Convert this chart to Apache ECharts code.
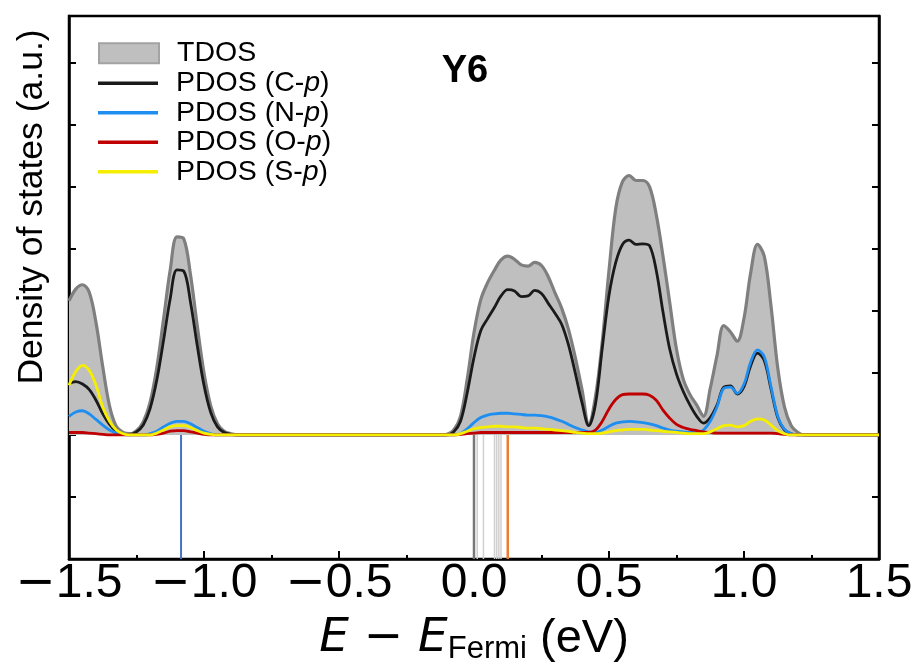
<!DOCTYPE html>
<html><head><meta charset="utf-8">
<script src="https://cdn.jsdelivr.net/npm/echarts@6/dist/echarts.min.js"></script>
<style>html,body{margin:0;padding:0;background:#fff}#c{width:920px;height:670px}</style>
</head><body><div id="c"></div>
<script>
// Energy grid (eV, relative to Fermi level)
const energy = [
 -1.5,-1.475,-1.45,-1.425,-1.4,-1.375,-1.35,-1.325,-1.3,-1.275,
 -1.25,-1.225,-1.2,-1.175,-1.15,-1.125,-1.1,-1.075,-1.05,-1.025,
 -1.0,-0.975,-0.95,-0.925,-0.9,-0.875,-0.85,-0.825,-0.8,-0.775,
 -0.75,-0.725,-0.7,-0.675,-0.65,-0.625,-0.6,-0.575,-0.55,-0.525,
 -0.5,-0.475,-0.45,-0.425,-0.4,-0.375,-0.35,-0.325,-0.3,-0.275,
 -0.25,-0.225,-0.2,-0.175,-0.15,-0.125,-0.1,-0.075,-0.05,-0.025,
 0.0,0.025,0.05,0.075,0.1,0.125,0.15,0.175,0.2,0.225,
 0.25,0.275,0.3,0.325,0.35,0.375,0.4,0.425,0.45,0.475,
 0.5,0.525,0.55,0.575,0.6,0.625,0.65,0.675,0.7,0.725,
 0.75,0.775,0.8,0.825,0.85,0.875,0.9,0.925,0.95,0.975,
 1.0,1.025,1.05,1.075,1.1,1.125,1.15,1.175,1.2,1.225,
 1.25,1.275,1.3,1.325,1.35,1.375,1.4,1.425,1.45,1.475,1.5
];
const tdos = [
 2.16,2.35,2.42,2.30,1.81,1.10,0.47,0.14,0.04,0.02,
 0.07,0.21,0.52,1.08,1.86,2.66,3.19,3.16,2.58,1.76,
 1.00,0.47,0.18,0.06,0.02,0,0,0,0,0,
 0,0,0,0,0,0,0,0,0,0,
 0,0,0,0,0,0,0,0,0,0,
 0,0,0,0,0,0,0.01,0.08,0.30,0.90,
 1.65,2.18,2.45,2.65,2.82,2.88,2.83,2.74,2.72,2.78,
 2.73,2.55,2.29,2.04,1.70,1.25,0.73,0.18,0.62,1.50,
 2.65,3.65,4.08,4.18,4.10,4.10,4.00,3.55,2.88,2.13,
 1.38,0.90,0.65,0.48,0.30,0.75,1.28,1.76,1.66,1.51,
 1.88,2.62,3.07,2.88,2.08,1.08,0.45,0.15,0.04,0,
 0,0,0,0,0,0,0,0,0,0,0
];
const pdosC = [
 0.83,0.86,0.82,0.73,0.56,0.34,0.17,0.06,0.01,0.01,
 0.05,0.16,0.42,0.88,1.52,2.20,2.66,2.64,2.14,1.44,
 0.80,0.36,0.13,0.04,0.01,0,0,0,0,0,
 0,0,0,0,0,0,0,0,0,0,
 0,0,0,0,0,0,0,0,0,0,
 0,0,0,0,0,0,0,0.05,0.22,0.68,
 1.25,1.68,1.87,2.05,2.24,2.34,2.32,2.23,2.24,2.33,
 2.28,2.12,1.96,1.78,1.45,1.00,0.52,0.15,0.50,1.40,
 2.25,2.78,3.07,3.14,3.07,3.08,3.05,2.65,1.98,1.38,
 0.98,0.70,0.48,0.30,0.19,0.28,0.48,0.77,0.79,0.66,
 0.78,1.12,1.32,1.20,0.74,0.28,0.08,0.02,0,0,
 0,0,0,0,0,0,0,0,0,0,0
];
const pdosN = [
 0.30,0.37,0.39,0.34,0.25,0.16,0.08,0.03,0.01,0,
 0,0,0.02,0.06,0.13,0.19,0.22,0.22,0.18,0.12,
 0.06,0.02,0,0,0,0,0,0,0,0,
 0,0,0,0,0,0,0,0,0,0,
 0,0,0,0,0,0,0,0,0,0,
 0,0,0,0,0,0,0,0,0.02,0.10,
 0.20,0.28,0.32,0.34,0.35,0.35,0.34,0.33,0.32,0.32,
 0.31,0.29,0.26,0.22,0.17,0.12,0.08,0.05,0.04,0.08,
 0.14,0.19,0.21,0.22,0.21,0.20,0.18,0.15,0.11,0.08,
 0.06,0.05,0.04,0.04,0.08,0.22,0.45,0.75,0.77,0.67,
 0.82,1.18,1.37,1.26,0.78,0.30,0.09,0.02,0,0,
 0,0,0,0,0,0,0,0,0,0,0
];
const pdosO = [
 0.04,0.04,0.04,0.03,0.02,0.01,0,0,0,0,
 0,0,0,0.01,0.03,0.06,0.07,0.07,0.05,0.03,
 0.01,0,0,0,0,0,0,0,0,0,
 0,0,0,0,0,0,0,0,0,0,
 0,0,0,0,0,0,0,0,0,0,
 0,0,0,0,0,0,0,0,0.01,0.02,
 0.03,0.04,0.04,0.04,0.04,0.04,0.04,0.04,0.04,0.04,
 0.04,0.04,0.04,0.04,0.04,0.04,0.04,0.04,0.08,0.22,
 0.42,0.57,0.65,0.66,0.66,0.66,0.64,0.56,0.40,0.27,
 0.17,0.12,0.09,0.07,0.05,0.04,0.03,0.03,0.03,0.03,
 0.03,0.03,0.03,0.03,0.03,0.02,0.01,0,0,0,
 0,0,0,0,0,0,0,0,0,0,0
];
const pdosS = [
 0.80,1.02,1.12,1.04,0.80,0.45,0.22,0.08,0.02,0,
 0,0,0,0.03,0.08,0.13,0.15,0.15,0.12,0.07,
 0.03,0.01,0,0,0,0,0,0,0,0,
 0,0,0,0,0,0,0,0,0,0,
 0,0,0,0,0,0,0,0,0,0,
 0,0,0,0,0,0,0,0,0.02,0.06,
 0.10,0.12,0.13,0.14,0.14,0.13,0.13,0.12,0.11,0.11,
 0.10,0.09,0.08,0.07,0.06,0.04,0.03,0.02,0.02,0.03,
 0.05,0.07,0.08,0.09,0.09,0.09,0.08,0.07,0.06,0.05,
 0.04,0.03,0.02,0.02,0.02,0.05,0.10,0.15,0.16,0.13,
 0.15,0.22,0.26,0.24,0.16,0.07,0.02,0,0,0,
 0,0,0,0,0,0,0,0,0,0,0
];
// Orbital energy levels drawn below the baseline
const levelsBlue = [-1.085];
const levelsDark = [0.0];
const levelsLight = [0.012, 0.035, 0.076, 0.084, 0.092, 0.100];
const levelsOrange = [0.125];
// Axis ticks
const xTicks = [-1.5, -1.0, -0.5, 0.0, 0.5, 1.0, 1.5];
const yTicks = [-2, -1, 0, 1, 2, 3, 4, 5, 6];
const seriesNames = ['TDOS', 'PDOS (C-p)', 'PDOS (N-p)', 'PDOS (O-p)', 'PDOS (S-p)'];
const panelLabel = 'Y6';

const FONT = '"Liberation Sans", Arial, sans-serif';
const MATH = '"DejaVu Sans", sans-serif';
const pairs = vals => energy.map((e, i) => [e, vals[i]]);
const yMin = yTicks[0], yMax = 6.75;

const levelSeries = [];
function addLevels(arr, color, width) {
  arr.forEach(e => levelSeries.push({
    type: 'line', data: [[e, 0], [e, yMin]], symbol: 'none', silent: true,
    lineStyle: { color: color, width: width }, z: 1, animation: false
  }));
}
addLevels(levelsLight, '#cfcfcf', 1.5);
addLevels(levelsBlue, '#4472c4', 2);
addLevels(levelsDark, '#777777', 2.5);
addLevels(levelsOrange, '#ed7d31', 2.5);

const curveColors = ['#7f7f7f', '#1a1a1a', '#1e8ef0', '#c00000', '#f5ee00'];
const curveData = [tdos, pdosC, pdosN, pdosO, pdosS];
const curveSeries = curveData.map((vals, k) => {
  const s = {
    name: seriesNames[k], type: 'line', data: pairs(vals), symbol: 'none',
    smooth: 0.35, color: curveColors[k], animation: false, silent: true,
    lineStyle: { color: curveColors[k], width: k === 0 ? 3.2 : 2.8 }, z: 2 + k
  };
  if (k === 0) s.areaStyle = { color: '#bfbfbf', opacity: 1 };
  return s;
});

const legendFmt = name => name.replace('-p)', '-{i|p})');
const legendText = {
  fontFamily: FONT, fontSize: 28.5, color: '#000', lineHeight: 29.5,
  padding: [0, 0, 0, 13],
  rich: { i: { fontFamily: FONT, fontSize: 28.5, fontStyle: 'italic', color: '#000', lineHeight: 29.5 } }
};

const chart = echarts.init(document.getElementById('c'), null, { renderer: 'canvas' });
chart.setOption({
  backgroundColor: '#fff',
  animation: false,
  grid: { left: 69, right: 41, top: 16, bottom: 110, show: true, borderColor: '#000', borderWidth: 2.5 },
  legend: [
    { data: [seriesNames[0]], orient: 'vertical', left: 93, top: 33.5, itemWidth: 60, itemHeight: 20,
      itemGap: 0, icon: 'rect', selectedMode: false,
      itemStyle: { color: '#bfbfbf', borderColor: '#a3a3a3', borderWidth: 2 },
      textStyle: legendText, formatter: legendFmt },
    { data: seriesNames.slice(1), orient: 'vertical', left: 93, top: 63.5, itemWidth: 60, itemHeight: 3.5,
      itemGap: 0, icon: 'rect', selectedMode: false,
      textStyle: legendText, formatter: legendFmt }
  ],
  xAxis: {
    type: 'value', min: xTicks[0], max: xTicks[xTicks.length - 1], interval: xTicks[1] - xTicks[0],
    splitLine: { show: false },
    axisLine: { show: true, onZero: false, lineStyle: { color: '#000', width: 2.5 } },
    axisTick: { show: true, inside: true, length: 8, lineStyle: { color: '#000', width: 2 } },
    minorTick: { show: true, splitNumber: 2, length: 4, lineStyle: { color: '#000', width: 2 } },
    axisLabel: { fontFamily: FONT, fontSize: 48, color: '#000', margin: 1,
      formatter: v => (v < 0 ? '{m|\u2212}' : '') + Math.abs(v).toFixed(1),
      rich: { m: { fontFamily: MATH, fontSize: 48, color: '#000' } } },
    name: '{i|E}{m| \u2212 }{i|E}{s|Fermi} (eV)',
    nameLocation: 'middle', nameGap: 52,
    nameTextStyle: {
      fontFamily: FONT, fontSize: 47, color: '#000', lineHeight: 52,
      rich: {
        i: { fontFamily: MATH, fontSize: 47, fontStyle: 'italic', color: '#000', lineHeight: 52 },
        m: { fontFamily: MATH, fontSize: 47, color: '#000', lineHeight: 52 },
        s: { fontFamily: FONT, fontSize: 31, color: '#000', lineHeight: 31, verticalAlign: 'bottom' }
      }
    }
  },
  yAxis: [
    { type: 'value', min: yMin, max: yMax, interval: yTicks[1] - yTicks[0], position: 'left',
      splitLine: { show: false }, axisLabel: { show: false },
      axisLine: { show: true, onZero: false, lineStyle: { color: '#000', width: 2.5 } },
      axisTick: { show: true, inside: true, length: 7, lineStyle: { color: '#000', width: 2 } } },
    { type: 'value', min: yMin, max: yMax, interval: yTicks[1] - yTicks[0], position: 'right',
      splitLine: { show: false }, axisLabel: { show: false },
      axisLine: { show: true, onZero: false, lineStyle: { color: '#000', width: 2.5 } },
      axisTick: { show: true, inside: true, length: 7, lineStyle: { color: '#000', width: 2 } } }
  ],
  graphic: [
    { type: 'text', x: 32, y: 207, rotation: Math.PI / 2,
      style: { text: 'Density of states (a.u.)', font: '35.5px ' + FONT, fill: '#000',
        textAlign: 'center', textVerticalAlign: 'middle' } },
    { type: 'text', x: 465, y: 72,
      style: { text: panelLabel, font: 'bold 38px ' + FONT, fill: '#000',
        textAlign: 'center', textVerticalAlign: 'middle' } }
  ],
  series: levelSeries.concat(curveSeries)
});
</script></body></html>
